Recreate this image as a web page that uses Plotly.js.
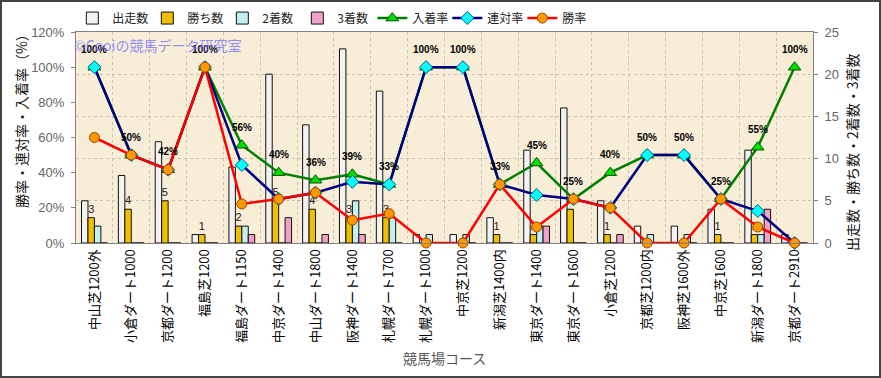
<!DOCTYPE html>
<html><head><meta charset="utf-8">
<script src="https://cdn.plot.ly/plotly-3.0.1.min.js"></script>
<style>
html,body{margin:0;padding:0;background:#fff;}
#wrap{position:relative;width:881px;height:378px;}
#chart{width:881px;height:378px;}
#frame{position:absolute;left:0;top:0;width:881px;height:378px;box-sizing:border-box;border:2px solid #444;pointer-events:none;}
</style>
</head><body>
<div id="wrap"><div id="chart"></div><div id="frame"></div></div>
<script>
const courses = ["中山芝1200外","小倉ダート1000","京都ダート1200","福島芝1200","福島ダート1150","中京ダート1400","中山ダート1800","阪神ダート1400","札幌ダート1700","札幌ダート1000","中京芝1200","新潟芝1400内","東京ダート1400","東京ダート1600","小倉芝1200","京都芝1200内","阪神芝1600外","中京芝1600","新潟ダート1800","京都ダート2910"];
const runs   = [5, 8, 12, 1, 9, 20, 14, 23, 18, 1, 1, 3, 11, 16, 5, 2, 2, 4, 11, 1];
const wins   = [3, 4, 5, 1, 2, 5, 4, 3, 3, 0, 0, 1, 1, 4, 1, 0, 0, 1, 1, 0];
const second = [2, 0, 0, 0, 2, 0, 0, 5, 3, 1, 1, 0, 2, 0, 0, 1, 1, 0, 1, 0];
const third  = [0, 0, 0, 0, 1, 3, 1, 1, 0, 0, 0, 0, 2, 0, 1, 0, 0, 0, 4, 0];
const placeRate = [100, 50, 41.7, 100, 55.6, 40, 35.7, 39.1, 33.3, 100, 100, 33.3, 45.5, 25, 40, 50, 50, 25, 54.5, 100];
const quinRate  = [100, 50, 41.7, 100, 44.4, 25, 28.6, 34.8, 33.3, 100, 100, 33.3, 27.3, 25, 20, 50, 50, 25, 18.2, 0];
const winRate   = [60, 50, 41.7, 100, 22.2, 25, 28.6, 13.0, 16.7, 0, 0, 33.3, 9.1, 25, 20, 0, 0, 25, 9.1, 0];
const placeLabels = ["100%","50%","42%","100%","56%","40%","36%","39%","33%","100%","100%","33%","45%","25%","40%","50%","50%","25%","55%","100%"];

const FONT = '"Noto Sans CJK JP","Noto Sans",sans-serif';
const NUMFONT = '"Liberation Sans",Arial,sans-serif';

function bar(name, vals, color, extra){
  return Object.assign({type:'bar', name:name, x:courses, y:vals, yaxis:'y',
    marker:{color:color, line:{color:'#111', width:1}}, hoverinfo:'skip'}, extra||{});
}
const traces = [
  bar('出走数', runs, '#f2f2f2'),
  bar('勝ち数', wins, '#f0c000', {text: wins.map(v => v ? String(v) : ''), textposition:'outside',
      textfont:{family:NUMFONT, size:11, color:'#222'}, cliponaxis:false}),
  bar('2着数', second, '#c2f0f0'),
  bar('3着数', third, '#f2a0c8'),
  {type:'scatter', mode:'lines+markers', name:'入着率', x:courses, y:placeRate, yaxis:'y2',
   line:{color:'#008000', width:2.5}, marker:{symbol:'triangle-up', size:11, color:'#00e000', line:{color:'#005000', width:1}}, cliponaxis:false},
  {type:'scatter', mode:'lines+markers', name:'連対率', x:courses, y:quinRate, yaxis:'y2',
   line:{color:'#000080', width:2.5}, marker:{symbol:'diamond', size:10, color:'#00ffff', line:{color:'#006080', width:1}}, cliponaxis:false},
  {type:'scatter', mode:'lines+markers', name:'勝率', x:courses, y:winRate, yaxis:'y2',
   line:{color:'#ff0000', width:2.5}, marker:{symbol:'circle', size:10, color:'#ff9900', line:{color:'#a04000', width:1}}, cliponaxis:false}
];

const annotations = placeRate.map((v,i) => ({x:courses[i], y:v, xref:'x', yref:'y2', yshift:18, text:placeLabels[i],
  showarrow:false, font:{family:NUMFONT, size:10, color:'#000', weight:'bold'}}));
annotations.push(
  {xref:'paper', yref:'paper', x:-0.005, y:0.94, xanchor:'left', yanchor:'middle', text:'©Cooiの競馬データ研究室', showarrow:false,
   font:{family:FONT, size:14, color:'rgba(110,110,255,0.75)'}},
  {xref:'paper', yref:'paper', x:-0.0746, y:0.592, xanchor:'center', yanchor:'middle', text:'勝率・連対率・入着率（%）', textangle:-90, showarrow:false,
   font:{family:FONT, size:14, color:'#111'}},
  {xref:'paper', yref:'paper', x:1.053, y:0.431, xanchor:'center', yanchor:'middle', text:'出走数・勝ち数・2着数・3着数', textangle:-90, showarrow:false,
   font:{family:FONT, size:14, color:'#111'}},
  {xref:'paper', yref:'paper', x:0.5, y:-0.545, xanchor:'center', yanchor:'middle', text:'競馬場コース', showarrow:false,
   font:{family:FONT, size:14, color:'#555'}}
);

const layout = {
  width:881, height:378,
  margin:{l:76, r:68, t:32, b:135, autoexpand:false},
  paper_bgcolor:'#ffffff', plot_bgcolor:'#f8edd6',
  barmode:'group', bargap:0.3, bargroupgap:0,
  showlegend:true,
  legend:{orientation:'h', x:-0.005, xanchor:'left', y:1.066, yanchor:'middle', entrywidth:30,
          font:{family:FONT, size:12, color:'#222'}, bgcolor:'rgba(0,0,0,0)', traceorder:'normal'},
  xaxis:{type:'category', range:[-0.5, 19.5], autorange:false, tickangle:-90, tickfont:{family:FONT, size:13, color:'#000'},
         showgrid:true, gridcolor:'#c8c0b0', griddash:'dot', gridwidth:1, tickson:'boundaries',
         showline:true, linecolor:'#808080', mirror:true, ticks:'', automargin:false},
  yaxis:{side:'right', range:[0,25], dtick:5, showgrid:true, gridcolor:'#c8c0b0', griddash:'dot',
         tickfont:{family:NUMFONT, size:13, color:'#666'}, ticks:'outside', ticklen:4, tickcolor:'#808080',
         showline:true, linecolor:'#808080', mirror:true, zeroline:false, automargin:false, ticklabelstandoff:4},
  yaxis2:{side:'left', overlaying:'y', range:[0,120], dtick:20, ticksuffix:'%', showgrid:false,
          tickfont:{family:NUMFONT, size:13, color:'#666'}, ticks:'outside', ticklen:4, tickcolor:'#808080',
          showline:true, linecolor:'#808080', zeroline:false, automargin:false, ticklabelstandoff:4},
  annotations:annotations
};
Plotly.newPlot('chart', traces, layout, {displayModeBar:false, staticPlot:true});
</script>
</body></html>
